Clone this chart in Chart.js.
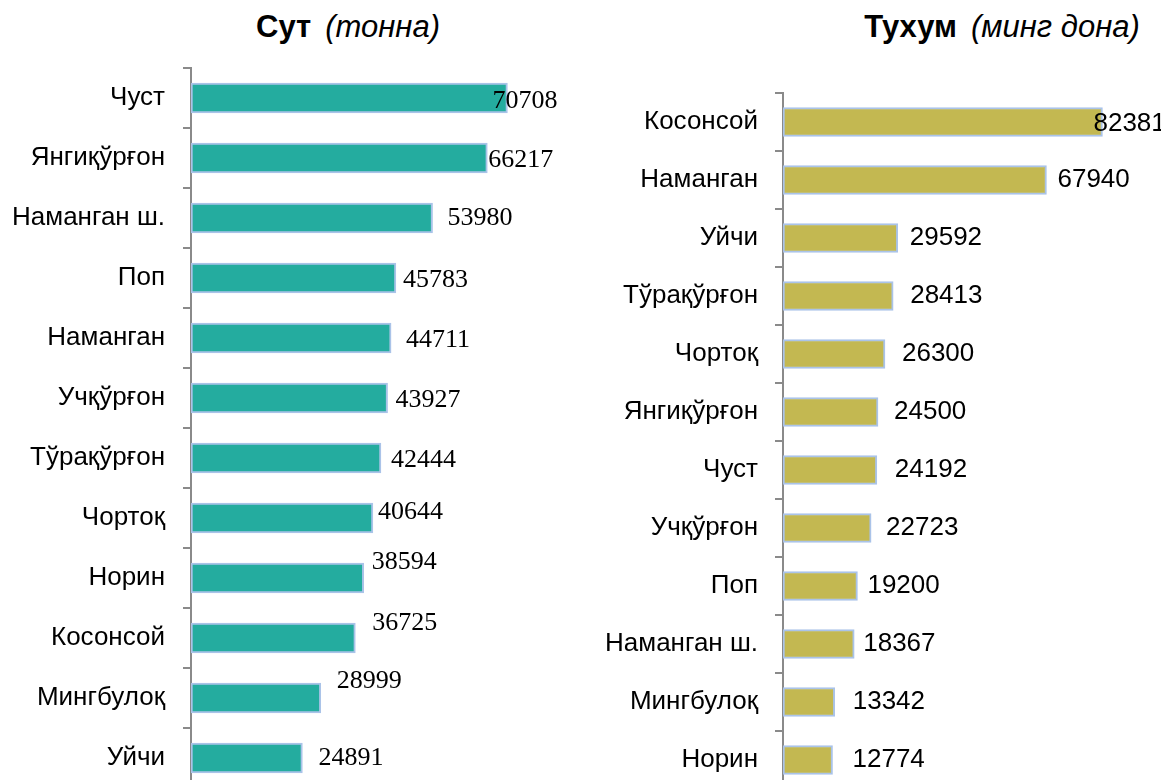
<!DOCTYPE html>
<html>
<head>
<meta charset="utf-8">
<script src="https://cdn.jsdelivr.net/npm/chart.js@4.4.1/dist/chart.umd.min.js"></script>
<style>
    html, body { margin: 0; padding: 0; background: #fff; overflow: hidden; }
    .title { position: absolute; top: 9px; font-family: "Liberation Sans", Arial, sans-serif; font-size: 31px; color: #000; transform: translateX(-50%); white-space: nowrap; }
    .title b { font-weight: bold; margin-right: 14px; }
    .title i { font-style: italic; font-weight: normal; }
    canvas { position: absolute; top: 0; }
</style>
</head>
<body>
<div class="title" style="left:348px"><b>Сут</b><i>(тонна)</i></div>
<div class="title" style="left:1002px"><b>Тухум</b><i>(минг дона)</i></div>
<canvas id="milkChart" width="580" height="800" style="left:0"></canvas>
<canvas id="eggChart" width="581" height="800" style="left:580px"></canvas>
<script>
// Milk (tonnes)
const milkDistricts = ['Чуст', 'Янгиқўрғон', 'Наманган ш.', 'Поп', 'Наманган', 'Учқўрғон',
    'Тўрақўрғон', 'Чортоқ', 'Норин', 'Косонсой', 'Мингбулоқ', 'Уйчи'];
const milkValues = [70708, 66217, 53980, 45783, 44711, 43927, 42444, 40644, 38594, 36725, 28999, 24891];

// Eggs (thousand pieces)
const eggDistricts = ['Косонсой', 'Наманган', 'Уйчи', 'Тўрақўрғон', 'Чортоқ', 'Янгиқўрғон',
    'Чуст', 'Учқўрғон', 'Поп', 'Наманган ш.', 'Мингбулоқ', 'Норин'];
const eggValues = [82381, 67940, 29592, 28413, 26300, 24500, 24192, 22723, 19200, 18367, 13342, 12774];

// label nudges [dx, dy] from the bar end, like the hand-placed labels in the original
const milkLabelShift = [[-15, 3], [1, 2], [15, 0], [7, 2], [15, 2], [8, 2], [10, 2], [5, -6], [8, -16], [17, -15], [16, -17], [16, 0]];
const eggLabelShift = [[-9, 2], [11, 0], [12, 0], [17, 0], [17, 0], [16, 0], [18, 0], [15, 0], [10, 0], [9, 0], [18, 0], [20, 0]];

// Draw value labels next to bars
const valueLabels = {
    id: 'valueLabels',
    afterDatasetsDraw(chart, args, opts) {
        const ctx = chart.ctx;
        const data = chart.data.datasets[0].data;
        ctx.save();
        ctx.font = opts.font;
        ctx.fillStyle = '#000';
        ctx.textAlign = 'left';
        ctx.textBaseline = 'middle';
        chart.getDatasetMeta(0).data.forEach((bar, i) => {
            const shift = opts.shift[i] || [0, 0];
            ctx.fillText(String(data[i]), bar.x + shift[0], bar.y + shift[1]);
        });
        ctx.restore();
    }
};

function makeChart(id, labels, values, opt) {
    const ctx = document.getElementById(id).getContext('2d');
    return new Chart(ctx, {
        type: 'bar',
        data: {
            labels: labels,
            datasets: [{
                data: values,
                backgroundColor: opt.color,
                borderColor: '#aac3e8',
                borderWidth: 2,
                borderSkipped: false,
                barThickness: opt.thickness
            }]
        },
        options: {
            indexAxis: 'y',
            responsive: false,
            animation: false,
            devicePixelRatio: 1,
            layout: { padding: opt.padding },
            plugins: {
                legend: { display: false },
                tooltip: { enabled: false },
                valueLabels: { font: opt.valueFont, shift: opt.shift }
            },
            scales: {
                x: { display: false, min: 0, max: opt.max },
                y: {
                    afterFit: function(scale) {
                        scale.width = opt.axisLeft;
                        // don't let the labels push the plot area in
                        scale.paddingTop = 0;
                        scale.paddingBottom = 0;
                    },
                    border: { display: true, color: '#8a8a8a', width: 2 },
                    grid: { display: true, drawOnChartArea: false, drawTicks: true, tickLength: 8, color: '#8a8a8a', lineWidth: 2 },
                    ticks: { color: '#000', padding: opt.tickPad, font: { family: '"Liberation Sans", Arial, sans-serif', size: 26 } }
                }
            }
        },
        plugins: [valueLabels]
    });
}

document.addEventListener('DOMContentLoaded', function() {
    makeChart('milkChart', milkDistricts, milkValues, {
        color: '#24ac9f',
        thickness: 30,
        max: 80000,
        axisLeft: 191,
        tickPad: 18,
        padding: { top: 68, bottom: 12, left: 0, right: 31 },
        valueFont: '26px "Liberation Serif", "Times New Roman", serif',
        shift: milkLabelShift
    });

    makeChart('eggChart', eggDistricts, eggValues, {
        color: '#c3b851',
        thickness: 29,
        max: 90000,
        axisLeft: 203,
        tickPad: 17,
        padding: { top: 93, bottom: 11, left: 0, right: 29 },
        valueFont: '26px "Liberation Sans", Arial, sans-serif',
        shift: eggLabelShift
    });
});
</script>
</body>
</html>
